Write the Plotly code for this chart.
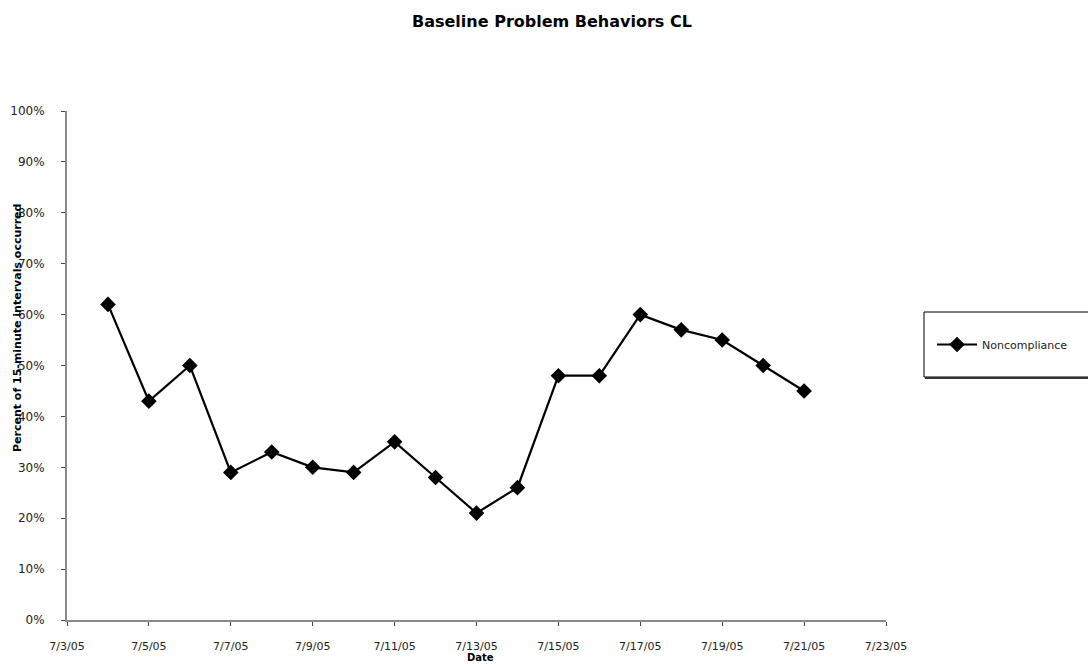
import plotly.graph_objects as go

# Daily noncompliance, percent of 15-minute intervals in which it occurred
dates = ["2005-07-04", "2005-07-05", "2005-07-06", "2005-07-07", "2005-07-08",
         "2005-07-09", "2005-07-10", "2005-07-11", "2005-07-12", "2005-07-13",
         "2005-07-14", "2005-07-15", "2005-07-16", "2005-07-17", "2005-07-18",
         "2005-07-19", "2005-07-20", "2005-07-21"]
noncompliance = [0.62, 0.43, 0.50, 0.29, 0.33, 0.30, 0.29, 0.35, 0.28, 0.21,
                 0.26, 0.48, 0.48, 0.60, 0.57, 0.55, 0.50, 0.45]

series_name = "Noncompliance"
title_text = "Baseline Problem Behaviors CL"
y_title = "Percent of 15-minute intervals occurred"
x_title = "Date"

FONT = "DejaVu Sans"
AXIS_GREY = "#8a8a8a"

fig = go.Figure()
fig.add_trace(go.Scatter(
    x=dates, y=noncompliance, name=series_name,
    mode="lines+markers",
    line=dict(color="black", width=2.2),
    marker=dict(symbol="diamond", size=12, color="black"),
))

W, H = 1088, 664
L, R, T, B = 67, 202, 111, 44
pw, ph = W - L - R, H - T - B

def px_x(px):
    return (px - L) / pw

def px_y(py):
    return (H - B - py) / ph

fig.update_layout(
    width=W, height=H,
    margin=dict(l=L, r=R, t=T, b=B, autoexpand=False),
    paper_bgcolor="white", plot_bgcolor="white",
    font=dict(family=FONT, size=12, color="#222222"),
    showlegend=True,
    legend=dict(
        x=px_x(932), y=px_y(344.5), xanchor="left", yanchor="middle",
        bgcolor="rgba(0,0,0,0)", borderwidth=0,
        font=dict(family=FONT, size=11, color="#222222"),
        itemwidth=40,
    ),
    xaxis=dict(
        type="date",
        range=["2005-07-03", "2005-07-23"],
        tick0="2005-07-03", dtick=2 * 86400000,
        tickformat="%-m/%-d/%y",
        automargin=False,
        showgrid=False, zeroline=False,
        showline=True, linecolor=AXIS_GREY, linewidth=2,
        ticks="outside", ticklen=4, tickcolor="#444444", tickwidth=1,
        ticklabelstandoff=11,
        tickfont=dict(family=FONT, size=11, color="#222222"),
    ),
    yaxis=dict(
        range=[0, 1], dtick=0.1, tickformat=".0%",
        automargin=False,
        showgrid=False, zeroline=False,
        showline=True, linecolor=AXIS_GREY, linewidth=2,
        ticks="outside", ticklen=4, tickcolor="#444444", tickwidth=1,
        ticklabelstandoff=14,
        tickfont=dict(family=FONT, size=12, color="#222222"),
    ),
    shapes=[
        dict(type="rect", xref="paper", yref="paper",
             x0=px_x(924), x1=px_x(1095), y0=px_y(377), y1=px_y(312),
             line=dict(color="black", width=1), fillcolor="rgba(0,0,0,0)"),
        dict(type="line", xref="paper", yref="paper",
             x0=px_x(925), x1=px_x(1095), y0=px_y(378), y1=px_y(378),
             line=dict(color="#333333", width=2)),
    ],
    annotations=[
        dict(text="<b>" + title_text + "</b>", xref="paper", yref="paper",
             x=px_x(552), y=px_y(22), xanchor="center", yanchor="middle",
             showarrow=False, font=dict(family=FONT, size=16, color="black")),
        dict(text="<b>" + y_title + "</b>", xref="paper", yref="paper",
             x=px_x(17), y=px_y(328), xanchor="center", yanchor="middle",
             textangle=-90, showarrow=False,
             font=dict(family=FONT, size=11, color="black")),
        dict(text="<b>" + x_title + "</b>", xref="paper", yref="paper",
             x=px_x(480), y=px_y(664), xanchor="center", yanchor="bottom",
             yshift=0, showarrow=False, borderpad=0,
             font=dict(family=FONT, size=10, color="black")),
    ],
)

fig.write_html("out.html")
